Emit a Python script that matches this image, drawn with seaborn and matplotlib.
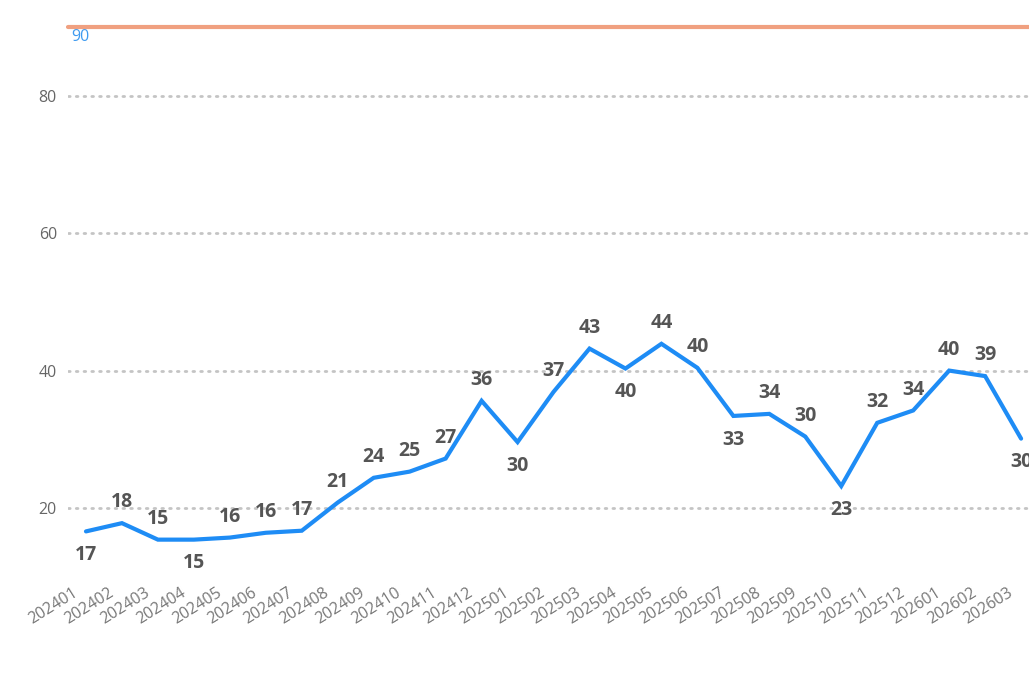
import matplotlib
matplotlib.use("Agg")
import matplotlib.pyplot as plt
import matplotlib.transforms as mtransforms
import seaborn as sns
import pandas as pd

periods = ["202401", "202402", "202403", "202404", "202405", "202406", "202407",
           "202408", "202409", "202410", "202411", "202412", "202501", "202502",
           "202503", "202504", "202505", "202506", "202507", "202508", "202509",
           "202510", "202511", "202512", "202601", "202602", "202603"]
values = [16.6, 17.8, 15.4, 15.4, 15.7, 16.4, 16.7, 20.8, 24.4, 25.3, 27.2, 35.6,
          29.6, 36.9, 43.2, 40.3, 43.9, 40.4, 33.4, 33.7, 30.4, 23.2, 32.4, 34.2,
          40.0, 39.2, 30.1]
label_side = ["b", "a", "a", "b", "a", "a", "a", "a", "a", "a", "a", "a",
              "b", "a", "a", "b", "a", "a", "b", "a", "a", "b", "a", "a",
              "a", "a", "b"]
reference_value = 90
y_ticks = [20, 40, 60, 80]

sns.set_theme(style="white")
plt.rcParams["font.family"] = ["Open Sans", "DejaVu Sans"]

df = pd.DataFrame({"period": periods, "value": values})

fig = plt.figure(figsize=(10.29, 6.80), dpi=100)
ax = fig.add_axes([68 / 1029, 1 - 576.75 / 680, (1029 - 68) / 1029, (576.75 - 27) / 680])

sns.lineplot(data=df, x="period", y="value", ax=ax, color="#1E8CF5",
             linewidth=3.0, sort=False, solid_joinstyle="miter", zorder=3)

ax.set_xlim(-0.5, 26.22)
ax.set_ylim(10, 90)

# reference line
ax.axhline(reference_value, color="#F0A080", linewidth=3.0, zorder=4, clip_on=False)
ax.text(0.003, reference_value - 0.3, str(reference_value), transform=ax.get_yaxis_transform(),
        color="#3F9BF0", fontsize=11.5, ha="left", va="top")

# gridlines
for t in y_ticks:
    ax.axhline(t, color="#C4C4C4", linewidth=2.0, linestyle=(0, (0.6, 2.2)),
               dash_capstyle="round", zorder=1)

ax.set_yticks(y_ticks)
ax.set_yticklabels([str(t) for t in y_ticks], color="#666666", fontsize=11.5)
ax.set_xticks(range(len(periods)))
ax.set_xticklabels(periods, rotation=32, ha="right", rotation_mode="anchor",
                   color="#777777", fontsize=11.5)
ax.tick_params(axis="y", length=0, pad=8)
ax.tick_params(axis="x", length=0, pad=6)
shift = mtransforms.ScaledTranslation(-14 / 100, 0, fig.dpi_scale_trans)
for lbl in ax.get_xticklabels():
    lbl.set_transform(lbl.get_transform() + shift)

ax.set_xlabel("")
ax.set_ylabel("")
for s in ax.spines.values():
    s.set_visible(False)

for i, (v, side) in enumerate(zip(values, label_side)):
    off = 15 if side == "a" else -17
    ax.annotate(f"{round(v)}", (i, v), xytext=(0, off), textcoords="offset points",
                ha="center", va="center", fontsize=14, fontweight="bold",
                color="#555555", annotation_clip=False)

fig.savefig("out.png", dpi=100)
